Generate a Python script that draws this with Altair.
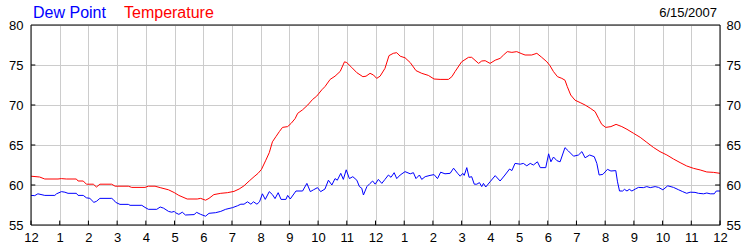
import altair as alt
import pandas as pd

# ---- data (hour of day, degrees F) ----
temperature = [
    (0.0, 61.1), (0.3, 61.0), (0.48, 60.75), (0.94, 60.75), (1.06, 60.8), (1.23, 60.75),
    (1.58, 60.75), (1.64, 60.5), (1.82, 60.5), (1.93, 60.1), (2.17, 60.1), (2.28, 59.75),
    (2.4, 60.1), (2.81, 60.1), (2.93, 59.85), (3.39, 59.85), (3.51, 59.7), (3.97, 59.7),
    (4.09, 59.85), (4.32, 59.85), (4.5, 59.67), (4.79, 59.4), (4.99, 59.05), (5.15, 58.7),
    (5.44, 58.25), (5.79, 58.25), (5.91, 58.33), (6.08, 58.1), (6.2, 58.33), (6.37, 58.8),
    (6.61, 58.96), (6.84, 59.04), (7.07, 59.2), (7.25, 59.5), (7.42, 59.9), (7.6, 60.5),
    (7.77, 61.04), (7.91, 61.46), (8.03, 61.96), (8.18, 63.1), (8.3, 64.04), (8.41, 65.4),
    (8.53, 66.04), (8.65, 66.67), (8.76, 67.2), (8.94, 67.3), (9.06, 67.7), (9.2, 68.3),
    (9.29, 68.96), (9.46, 69.4), (9.64, 70.0), (9.81, 70.7), (9.95, 71.1), (10.13, 71.9),
    (10.24, 72.3), (10.42, 73.2), (10.59, 73.6), (10.77, 74.2), (10.92, 75.4), (11.0, 75.3),
    (11.17, 74.7), (11.35, 74.04), (11.56, 73.54), (11.67, 73.6), (11.81, 73.96), (11.93, 73.75),
    (12.04, 73.33), (12.16, 73.6), (12.33, 74.58), (12.47, 76.17), (12.62, 76.46), (12.74, 76.54),
    (12.86, 76.1), (13.03, 75.9), (13.21, 75.3), (13.41, 74.3), (13.61, 73.96), (13.84, 73.7),
    (14.04, 73.25), (14.25, 73.2), (14.54, 73.2), (14.66, 73.54), (14.77, 74.17), (15.0, 75.4),
    (15.24, 75.96), (15.35, 75.96), (15.59, 75.2), (15.7, 75.5), (15.82, 75.54), (15.99, 75.2),
    (16.17, 75.6), (16.34, 75.83), (16.46, 76.25), (16.59, 76.67), (16.75, 76.58), (16.92, 76.67),
    (17.1, 76.4), (17.21, 76.25), (17.44, 76.25), (17.62, 76.46), (17.79, 75.96), (17.97, 75.4),
    (18.08, 74.9), (18.2, 74.17), (18.34, 73.54), (18.49, 73.33), (18.6, 73.1), (18.68, 72.3),
    (18.8, 71.25), (18.95, 70.6), (19.13, 70.3), (19.3, 70.0), (19.48, 69.6), (19.65, 69.17),
    (19.77, 68.33), (19.88, 67.58), (20.02, 67.2), (20.2, 67.3), (20.38, 67.58), (20.58, 67.3),
    (20.76, 66.96), (20.99, 66.46), (21.22, 65.96), (21.45, 65.33), (21.68, 64.7), (21.91, 64.17),
    (22.15, 63.75), (22.38, 63.25), (22.61, 62.8), (22.84, 62.38), (23.08, 62.08), (23.31, 61.88),
    (23.54, 61.63), (23.77, 61.58), (24.0, 61.46),
]

dew_point = [
    (0.0, 58.7), (0.13, 58.67), (0.24, 58.9), (0.48, 58.7), (0.83, 58.7), (0.89, 58.9),
    (1.06, 59.17), (1.18, 59.1), (1.29, 58.96), (1.58, 58.96), (1.64, 58.7), (1.82, 58.7),
    (1.93, 58.4), (2.05, 58.33), (2.19, 57.83), (2.28, 57.96), (2.4, 58.33), (2.81, 58.33),
    (2.87, 58.17), (2.95, 57.83), (3.1, 57.58), (3.39, 57.58), (3.45, 57.46), (3.86, 57.46),
    (3.97, 57.2), (4.09, 56.96), (4.38, 56.96), (4.5, 57.25), (4.62, 57.1), (4.79, 56.7),
    (4.9, 56.6), (4.99, 56.7), (5.03, 56.54), (5.15, 56.33), (5.27, 56.6), (5.38, 56.25),
    (5.68, 56.3), (5.77, 56.58), (5.91, 56.33), (6.08, 56.1), (6.2, 56.46), (6.43, 56.54),
    (6.61, 56.7), (6.78, 56.96), (7.02, 57.17), (7.19, 57.4), (7.31, 57.6), (7.42, 57.6),
    (7.54, 57.9), (7.66, 57.6), (7.75, 57.9), (7.87, 57.6), (7.96, 57.9), (8.06, 58.9),
    (8.16, 58.2), (8.3, 59.17), (8.41, 58.8), (8.5, 58.3), (8.61, 59.04), (8.71, 58.2),
    (8.88, 58.2), (8.94, 58.7), (9.03, 58.25), (9.23, 59.25), (9.46, 59.25), (9.61, 60.2),
    (9.73, 59.17), (9.84, 59.4), (9.98, 59.67), (10.09, 59.17), (10.24, 59.5), (10.36, 60.6),
    (10.48, 60.0), (10.59, 60.8), (10.67, 60.6), (10.79, 61.46), (10.88, 60.7), (10.98, 61.9),
    (11.09, 60.8), (11.21, 61.04), (11.35, 60.6), (11.44, 59.8), (11.52, 59.6), (11.58, 58.75),
    (11.7, 59.8), (11.81, 60.2), (11.9, 60.5), (11.99, 60.1), (12.1, 60.7), (12.22, 60.2),
    (12.33, 60.7), (12.45, 61.25), (12.54, 60.96), (12.65, 61.54), (12.74, 60.8), (12.86, 61.25),
    (13.03, 61.67), (13.21, 61.4), (13.32, 61.54), (13.41, 60.8), (13.53, 61.25), (13.61, 60.7),
    (13.73, 61.04), (13.9, 61.2), (14.04, 61.3), (14.16, 60.8), (14.27, 61.6), (14.42, 61.4),
    (14.6, 61.46), (14.72, 62.1), (14.86, 61.46), (14.95, 61.1), (15.04, 61.46), (15.09, 61.2),
    (15.18, 62.17), (15.26, 60.96), (15.35, 61.04), (15.44, 60.1), (15.53, 60.1), (15.62, 60.3),
    (15.7, 59.8), (15.76, 60.2), (15.84, 59.75), (15.99, 60.4), (16.17, 61.17), (16.34, 60.5),
    (16.51, 61.25), (16.67, 62.0), (16.75, 61.8), (16.86, 62.7), (17.04, 62.6), (17.15, 62.7),
    (17.27, 62.4), (17.39, 62.7), (17.5, 62.5), (17.64, 62.9), (17.74, 62.17), (17.93, 62.17),
    (18.03, 63.9), (18.11, 62.9), (18.2, 63.5), (18.32, 63.04), (18.43, 62.9), (18.6, 64.67),
    (18.72, 64.25), (18.9, 63.6), (19.07, 63.75), (19.19, 64.17), (19.3, 63.4), (19.46, 63.75),
    (19.62, 63.54), (19.71, 62.7), (19.79, 61.25), (19.92, 61.33), (20.08, 61.96), (20.2, 61.75),
    (20.37, 61.8), (20.43, 60.4), (20.5, 59.25), (20.61, 59.25), (20.67, 59.46), (20.76, 59.25),
    (20.84, 59.46), (20.93, 59.25), (21.05, 59.5), (21.16, 59.7), (21.33, 59.67), (21.45, 59.8),
    (21.57, 59.67), (21.74, 59.8), (21.86, 59.7), (22.01, 59.4), (22.18, 59.9), (22.38, 59.7),
    (22.56, 59.4), (22.7, 59.17), (22.84, 58.96), (22.96, 59.1), (23.13, 59.08), (23.25, 58.96),
    (23.43, 58.9), (23.54, 59.0), (23.66, 58.9), (23.8, 58.9), (23.87, 59.25), (24.0, 59.25),
]

series_names = ["Dew Point", "Temperature"]
series_colors = ["#0000ff", "#ff0000"]
hour_ticks = list(range(25))
degree_ticks = [55, 60, 65, 70, 75, 80]
inner_degree_ticks = [60, 65, 70, 75]
date_label = "6/15/2007"

FONT = "Liberation Sans"

rows = [{"series": "Temperature", "hour": h, "value": v} for h, v in temperature]
rows += [{"series": "Dew Point", "hour": h, "value": v} for h, v in dew_point]
df = pd.DataFrame(rows)
hours_df = pd.DataFrame({"hour": hour_ticks})
deg_df = pd.DataFrame({"deg": inner_degree_ticks})

xscale = alt.Scale(domain=[0, 24], nice=False, zero=False)
yscale = alt.Scale(domain=[55, 80], nice=False, zero=False)

x_axis = alt.Axis(
    values=hour_ticks,
    labelExpr="datum.value % 12 == 0 ? '12' : '' + (datum.value % 12)",
    grid=True, gridColor="#cccccc", gridWidth=1,
    ticks=False, domain=False, title=None,
    labelFlush=False, labelOverlap=False, labelPadding=6,
    labelFont=FONT, labelFontSize=13, labelColor="black",
)
y_left = alt.Axis(
    values=degree_ticks, orient="left",
    grid=True, gridColor="#cccccc", gridWidth=1,
    ticks=False, domain=False, title=None,
    labelFlush=False, labelOverlap=False, labelPadding=8,
    labelFont=FONT, labelFontSize=13, labelColor="black", labelBaseline="middle",
)
y_right = alt.Axis(
    values=degree_ticks, orient="right",
    grid=False, ticks=False, domain=False, title=None,
    labelFlush=False, labelOverlap=False, labelPadding=6,
    labelFont=FONT, labelFontSize=13, labelColor="black", labelBaseline="middle",
)

lines = alt.Chart(df).mark_line(strokeWidth=1).encode(
    x=alt.X("hour:Q", scale=xscale, axis=x_axis),
    y=alt.Y("value:Q", scale=yscale, axis=y_left),
    color=alt.Color("series:N", scale=alt.Scale(domain=series_names, range=series_colors), legend=None),
)

bottom_ticks = alt.Chart(hours_df).mark_rule(color="black", strokeWidth=1).encode(
    x=alt.X("hour:Q", scale=xscale, axis=x_axis),
    y=alt.YDatum(55, scale=yscale, axis=None),
    y2=alt.Y2Datum(55.55),
)

left_ticks = alt.Chart(deg_df).mark_rule(color="black", strokeWidth=1).encode(
    x=alt.XDatum(0, scale=xscale, axis=x_axis),
    x2=alt.X2Datum(0.15),
    y=alt.Y("deg:Q", scale=yscale, axis=None),
)

right_ticks = alt.Chart(deg_df).mark_rule(color="black", strokeWidth=1).encode(
    x=alt.XDatum(23.83, scale=xscale, axis=x_axis),
    x2=alt.X2Datum(24),
    y=alt.Y("deg:Q", scale=yscale, axis=y_right),
)

border = alt.Chart(hours_df.head(1)).mark_rect(fill=None, fillOpacity=0, stroke="black", strokeWidth=1).encode(
    x=alt.XDatum(0, scale=xscale, axis=x_axis),
    x2=alt.X2Datum(24),
    y=alt.YDatum(55, scale=yscale, axis=None),
    y2=alt.Y2Datum(80),
)

title_dew = alt.Chart(hours_df.head(1)).mark_text(
    text=series_names[0], color=series_colors[0], font=FONT, fontSize=16,
    align="left", baseline="alphabetic",
).encode(x=alt.value(2), y=alt.value(-7))

title_temp = alt.Chart(hours_df.head(1)).mark_text(
    text=series_names[1], color=series_colors[1], font=FONT, fontSize=16,
    align="left", baseline="alphabetic",
).encode(x=alt.value(93), y=alt.value(-7))

date_text = alt.Chart(hours_df.head(1)).mark_text(
    text=date_label, color="black", font=FONT, fontSize=13,
    align="right", baseline="alphabetic",
).encode(x=alt.value(686), y=alt.value(-8))

chart = alt.layer(
    lines, bottom_ticks, left_ticks, right_ticks, border, title_dew, title_temp, date_text
).resolve_axis(y="independent").properties(
    width=689, height=200,
    padding={"left": 31, "top": 25, "right": 30, "bottom": 25},
    autosize=alt.AutoSizeParams(type="none"),
    background="white",
).configure_view(stroke=None)

chart.save("out.html", embed_options={"renderer": "svg", "actions": False})
